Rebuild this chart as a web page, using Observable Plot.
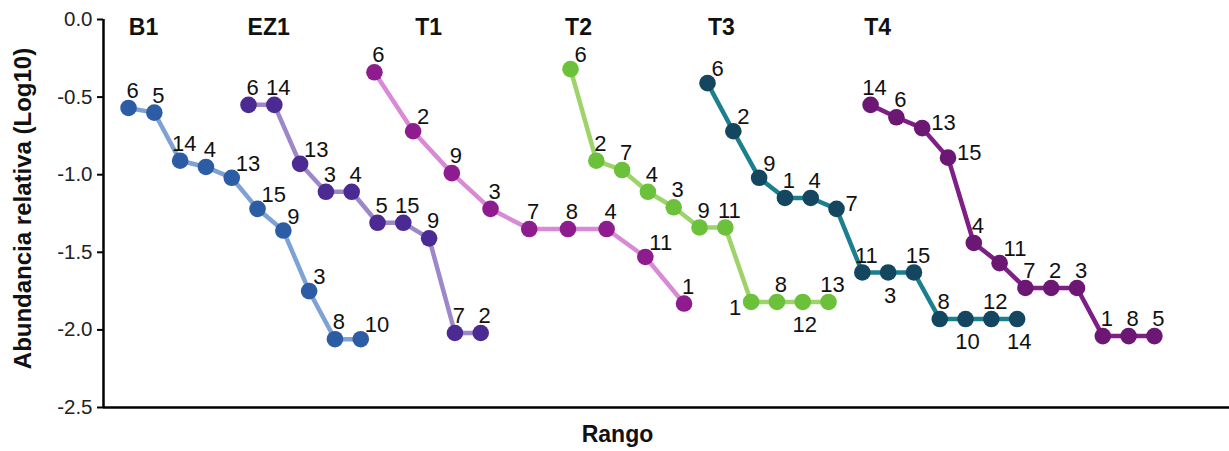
<!DOCTYPE html>
<html>
<head>
<meta charset="utf-8">
<script src="https://cdn.jsdelivr.net/npm/d3@7"></script>
<script src="https://cdn.jsdelivr.net/npm/@observablehq/plot@0.6"></script>
<style>
  html, body { margin: 0; padding: 0; background: #fff; }
  #chart svg { display: block; }
</style>
</head>
<body>
<div id="chart"></div>
<script>
// ---- data ----
const series = ["B1", "EZ1", "T1", "T2", "T3", "T4"];
// rank position of the first point of each series, and rank step between points
const xStart = [0, 4.65, 9.53, 17.13, 22.44, 28.76];
const xStep  = [1, 1, 1.5, 1, 1, 1];
// rank at which each series title sits
const titleRank = [0.58, 5.43, 11.63, 17.44, 22.98, 29.03];

const labelsB1  = [6, 5, 14, 4, 13, 15, 9, 3, 8, 10];
const valuesB1  = [-0.57, -0.60, -0.91, -0.95, -1.02, -1.22, -1.36, -1.75, -2.06, -2.06];
const labelsEZ1 = [6, 14, 13, 3, 4, 5, 15, 9, 7, 2];
const valuesEZ1 = [-0.55, -0.55, -0.93, -1.11, -1.11, -1.31, -1.31, -1.41, -2.02, -2.02];
const labelsT1  = [6, 2, 9, 3, 7, 8, 4, 11, 1];
const valuesT1  = [-0.34, -0.72, -0.99, -1.22, -1.35, -1.35, -1.35, -1.53, -1.83];
const labelsT2  = [6, 2, 7, 4, 3, 9, 11, 1, 8, 12, 13];
const valuesT2  = [-0.32, -0.91, -0.97, -1.11, -1.21, -1.34, -1.34, -1.82, -1.82, -1.82, -1.82];
const labelsT3  = [6, 2, 9, 1, 4, 7, 11, 3, 15, 8, 10, 12, 14];
const valuesT3  = [-0.41, -0.72, -1.02, -1.15, -1.15, -1.22, -1.63, -1.63, -1.63, -1.93, -1.93, -1.93, -1.93];
const labelsT4  = [14, 6, 13, 15, 4, 11, 7, 2, 3, 1, 8, 5];
const valuesT4  = [-0.55, -0.63, -0.70, -0.89, -1.44, -1.57, -1.73, -1.73, -1.73, -2.04, -2.04, -2.04];

// where each point label sits relative to its point (t = top, tr = top-right, r = right, b = below, bl = below-left)
const placeB1  = ["t","t","t","t","tr","tr","tr","tr","t","tr"];
const placeEZ1 = ["t","t","tr","t","t","t","t","t","t","t"];
const placeT1  = ["t","tr","t","t","t","t","t","tr","t"];
const placeT2  = ["tr","t","t","t","t","t","t","bl","t","b","t"];
const placeT3  = ["tr","tr","tr","t","t","r","t","b","t","t","b","t","b"];
const placeT4  = ["t","t","r","r","t","tr","t","t","t","t","t","t"];

const yTicks = [0, -0.5, -1.0, -1.5, -2.0, -2.5];
const yDomain = [-2.5, 0];
const xDomain = [-0.97, 42.67];

const lineColors  = ["#7fa2d4", "#9d87c9", "#d98ad6", "#9dd46a", "#1a7f8e", "#7d1f87"];
const pointColors = ["#2b5ca4", "#4b2a94", "#8e1c8e", "#6cc13a", "#14465f", "#6b1773"];

const yTitle = "Abundancia relativa (Log10)";
const xTitle = "Rango";

// ---- table ----
const labelSets = [labelsB1, labelsEZ1, labelsT1, labelsT2, labelsT3, labelsT4];
const valueSets = [valuesB1, valuesEZ1, valuesT1, valuesT2, valuesT3, valuesT4];
const placeSets = [placeB1, placeEZ1, placeT1, placeT2, placeT3, placeT4];
const rows = [];
series.forEach((s, i) => {
  labelSets[i].forEach((lab, j) => {
    rows.push({series: s, rank: xStart[i] + j * xStep[i], value: valueSets[i][j], label: String(lab), place: placeSets[i][j]});
  });
});
const titles = series.map((s, i) => ({series: s, rank: titleRank[i]}));

const placements = {
  t:  {dx: 4,  dy: -17, textAnchor: "middle"},
  tr: {dx: 4,  dy: -14, textAnchor: "start"},
  r:  {dx: 9,  dy: -5,  textAnchor: "start"},
  b:  {dx: 2,  dy: 23,  textAnchor: "middle"},
  bl: {dx: -10, dy: 6,  textAnchor: "end"}
};

const labelFont = "'Liberation Sans Narrow', 'Arial Narrow', 'Liberation Sans', Arial, sans-serif";

const marks = [];
series.forEach((s, i) => {
  const d = rows.filter(r => r.series === s);
  marks.push(Plot.line(d, {x: "rank", y: "value", stroke: lineColors[i], strokeWidth: 4.5}));
});
series.forEach((s, i) => {
  const d = rows.filter(r => r.series === s);
  marks.push(Plot.dot(d, {x: "rank", y: "value", r: 8.3, fill: pointColors[i], stroke: null}));
});
Object.entries(placements).forEach(([k, p]) => {
  marks.push(Plot.text(rows.filter(r => r.place === k), {
    x: "rank", y: "value", text: "label", dx: p.dx, dy: p.dy, textAnchor: p.textAnchor,
    lineAnchor: "middle", fontSize: 22, fontFamily: labelFont, fill: "#111"
  }));
});

const chart = Plot.plot({
  width: 1229,
  height: 451,
  marginTop: 19,
  marginBottom: 44,
  marginLeft: 103,
  marginRight: 0,
  style: {fontFamily: "'Liberation Sans', Arial, sans-serif", background: "#fff", overflow: "visible"},
  x: {domain: xDomain, axis: null},
  y: {domain: yDomain, axis: null},
  marks: [
    Plot.axisY({ticks: yTicks, tickFormat: d => d.toFixed(1), tickSize: 6, tickPadding: 5, fontSize: 20.5, label: null, strokeWidth: 2, stroke: "#000", color: "#222"}),
    Plot.ruleX([xDomain[0]], {stroke: "#000", strokeWidth: 2.5}),
    Plot.ruleY([yDomain[0]], {stroke: "#000", strokeWidth: 2.5}),
    ...marks,
    Plot.text(titles, {x: "rank", y: () => 0, text: "series", dy: 8, lineAnchor: "middle", fontSize: 23, fontWeight: "bold", fill: "#111"}),
    Plot.text([yTitle], {frameAnchor: "left", textAnchor: "middle", rotate: -90, dx: -80, dy: -5, lineAnchor: "middle", fontSize: 24, fontWeight: "bold", fill: "#111"}),
    Plot.text([xTitle], {frameAnchor: "bottom", textAnchor: "middle", dx: -49, dy: 27, lineAnchor: "middle", fontSize: 23, fontWeight: "bold", fill: "#111"})
  ]
});
document.getElementById("chart").appendChild(chart);
</script>
</body>
</html>
